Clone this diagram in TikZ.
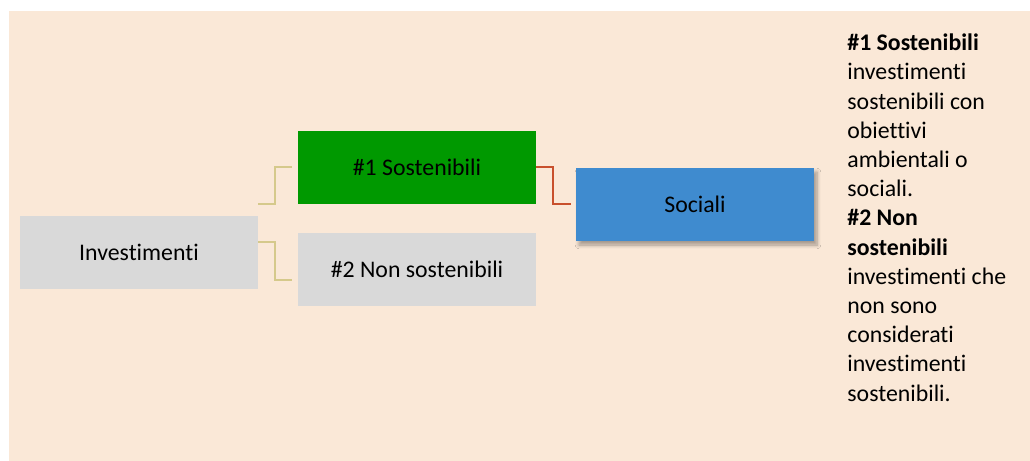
\documentclass[tikz,border=0pt]{standalone}
\usepackage{fontspec}
\setmainfont{Carlito}[Ligatures={NoCommon}]
\usetikzlibrary{shadows.blur}
\definecolor{bgc}{HTML}{FAE8D7}
\definecolor{grn}{HTML}{009900}
\definecolor{gry}{HTML}{D9D9D9}
\definecolor{blu}{HTML}{3F8BCF}
\definecolor{tan}{HTML}{D5C98B}
\definecolor{rdl}{HTML}{C8502D}
\tikzset{
  box/.style={draw=none, minimum width=119pt, minimum height=36.5pt, inner sep=0pt, font=\fontsize{11.9}{14.6}\selectfont, text=black},
  tanline/.style={draw=tan, line width=1pt},
  redline/.style={draw=rdl, line width=1pt},
}
\begin{document}
\begin{tikzpicture}[x=0.5pt,y=-0.5pt]
\useasboundingbox (0,0) rectangle (1030,461);
\fill[bgc] (9,11) rectangle (1030,461);
\node[box, fill=gry] (inv) at (139,252.5) {Investimenti};
\node[box, fill=grn] (s1) at (417,167) {\#1 Sostenibili};
\node[box, fill=gry] (s2) at (417,269.5) {\#2 Non sostenibili};
\node[box, fill=blu, blur shadow={shadow xshift=1.5pt, shadow yshift=-2pt, shadow blur steps=6, shadow opacity=35}] (soc) at (695,204.5) {Sociali};
\coordinate (t1a) at (258,204);
\coordinate (t1b) at (292,167);
\coordinate (t2a) at (258,242);
\coordinate (t2b) at (292,280);
\coordinate (r1b) at (571,204);
\draw[tanline] (t1a) -- (275,204) -- (275,167) -- (t1b);
\draw[tanline] (t2a) -- (275,242) -- (275,280) -- (t2b);
\draw[redline] (s1.east) -- (553,167) -- (553,204) -- (r1b);
\node[anchor=base west, align=left, inner sep=0pt, font=\fontsize{11.9}{14.6}\selectfont] (txt) at (847,401) {\textbf{\#1 Sostenibili}\\investimenti\\sostenibili con\\obiettivi\\ambientali o\\sociali.\\\textbf{\#2 Non}\\\textbf{sostenibili}\\investimenti che\\non sono\\considerati\\investimenti\\sostenibili.};
\end{tikzpicture}
\end{document}
